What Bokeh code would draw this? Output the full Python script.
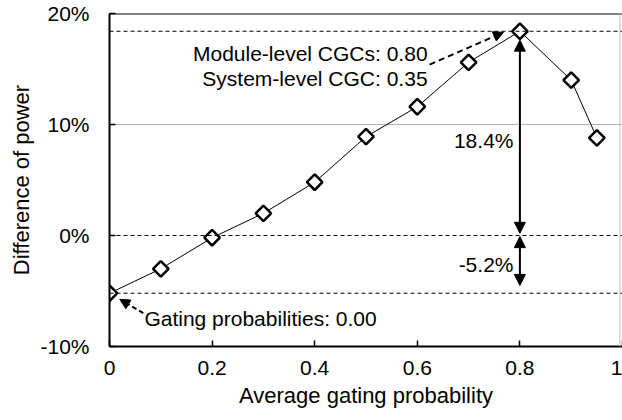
import math
from bokeh.plotting import figure
from bokeh.models import (Range1d, FixedTicker, PrintfTickFormatter, CustomJSTickFormatter,
                          Span, Arrow, NormalHead, Label)
from bokeh.embed import file_html
from bokeh.resources import INLINE

# ---- data ----
gating_prob = [0.0, 0.1, 0.2, 0.3, 0.4, 0.5, 0.6, 0.7, 0.8, 0.9, 0.95]
power_diff = [-5.2, -3.0, -0.2, 2.0, 4.8, 8.9, 11.6, 15.6, 18.4, 14.0, 8.8]
x_ticks = [0, 0.2, 0.4, 0.6, 0.8, 1.0]
y_ticks = [-10, 0, 10, 20]
module_text = "Module-level CGCs: 0.80"
system_text = "System-level CGC: 0.35"
gating_text = "Gating probabilities: 0.00"

FONT = "Liberation Sans"
peak = max(power_diff)
peak_x = gating_prob[power_diff.index(peak)]
low = power_diff[0]

p = figure(width=622, height=420, x_range=Range1d(0, 1), y_range=Range1d(-10, 20),
           output_backend="svg", toolbar_location=None,
           min_border_left=109, min_border_right=0, min_border_top=13, min_border_bottom=74)
p.outline_line_color = None
p.background_fill_color = "white"
p.border_fill_color = "white"

# grid
p.xgrid.visible = False
p.ygrid.ticker = FixedTicker(ticks=[10])
p.ygrid.grid_line_color = "#b4b4b4"
p.ygrid.grid_line_width = 1

# axes
p.xaxis.ticker = FixedTicker(ticks=x_ticks)
p.xaxis.formatter = CustomJSTickFormatter(code="return (Math.round(tick*10)/10).toString()")
p.yaxis.ticker = FixedTicker(ticks=y_ticks)
p.yaxis.formatter = PrintfTickFormatter(format="%d%%")
p.xaxis.axis_label = "Average gating probability"
p.yaxis.axis_label = "Difference of power"
for ax in (p.xaxis[0], p.yaxis[0]):
    ax.axis_line_color = "black"
    ax.axis_line_width = 2
    ax.major_tick_in = 6
    ax.major_tick_out = 0
    ax.major_tick_line_color = "black"
    ax.major_tick_line_width = 1.5
    ax.minor_tick_line_color = None
    ax.major_label_text_font = FONT
    ax.major_label_text_font_size = "21px"
    ax.major_label_text_color = "black"
    ax.axis_label_text_font = FONT
    ax.axis_label_text_font_size = "22px"
    ax.axis_label_text_font_style = "normal"
    ax.axis_label_text_color = "black"
p.xaxis.major_label_standoff = 14
p.xaxis.axis_label_standoff = 5
p.yaxis.major_label_standoff = 20
p.yaxis.axis_label_standoff = 3

# frame borders
p.add_layout(Span(location=20, dimension="width", line_color="black", line_width=2))
p.add_layout(Span(location=0.995, dimension="height", line_color="#c0c0c0", line_width=1))

# dashed reference lines
for loc in (peak, 0, low):
    p.add_layout(Span(location=loc, dimension="width", line_color="black",
                      line_width=1, line_dash="4 3"))

# series
p.line(gating_prob, power_diff, line_color="black", line_width=1)
p.scatter(gating_prob, power_diff, marker="square", angle=math.pi / 4, size=11,
          fill_color="white", line_color="black", line_width=2.5)

# double arrows
def head():
    return NormalHead(size=11, fill_color="black", line_color="black", line_width=1)

p.add_layout(Arrow(start=head(), end=head(), x_start=peak_x, y_start=0.2,
                   x_end=peak_x, y_end=peak - 0.8, line_width=2, line_color="black"))
p.add_layout(Arrow(start=head(), end=head(), x_start=peak_x, y_start=-0.1,
                   x_end=peak_x, y_end=low + 0.7, line_width=2, line_color="black"))

# dashed pointer arrows
p.add_layout(Arrow(end=NormalHead(size=10, fill_color="black", line_color="black"),
                   x_start=0.624, y_start=15.4, x_end=0.768, y_end=18.3,
                   line_width=2, line_color="black", line_dash="6 4"))
p.add_layout(Arrow(end=NormalHead(size=10, fill_color="black", line_color="black"),
                   x_start=0.066, y_start=-7.0, x_end=0.02, y_end=-5.75,
                   line_width=2, line_color="black", line_dash="5 3"))

# labels
def lab(x, y, text, align):
    p.add_layout(Label(x=x, y=y, text=text, text_align=align, text_baseline="middle",
                       text_font=FONT, text_font_size="21px", text_color="black"))

lab(0.62, 16.4, module_text, "right")
lab(0.62, 14.15, system_text, "right")
lab(0.7875, 8.55, f"{peak:.1f}%", "right")
lab(0.7875, low / 2, f"{low:.1f}%", "right")
lab(0.068, -7.5, gating_text, "left")

open("out.html", "w").write(file_html(p, INLINE))
